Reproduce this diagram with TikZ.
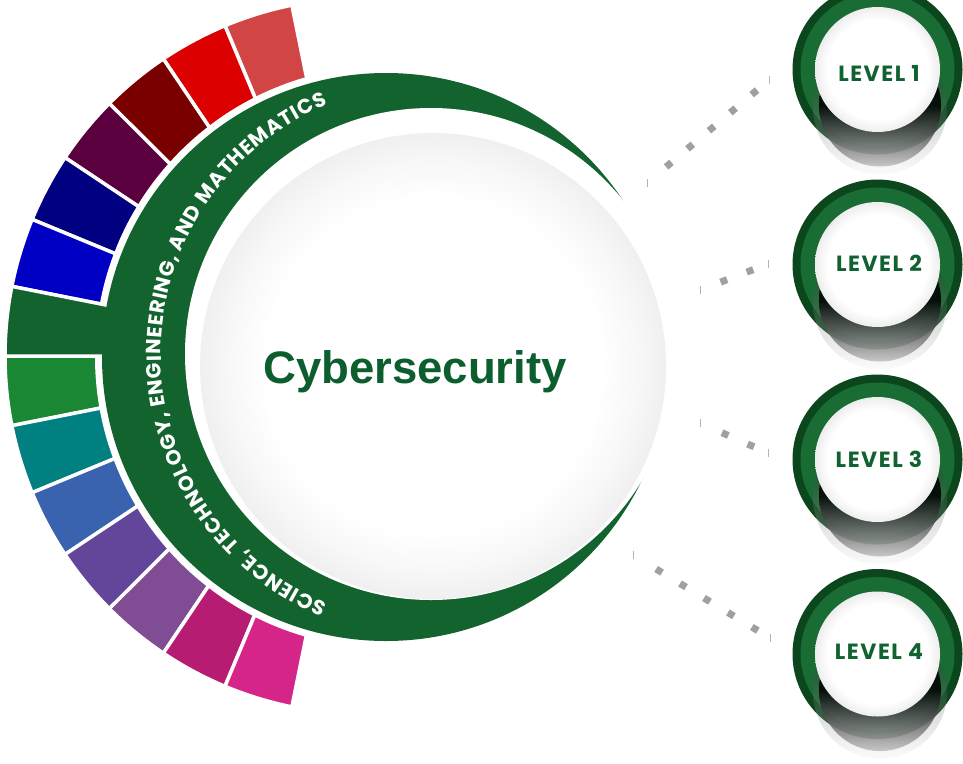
\documentclass[tikz,border=0pt]{standalone}
\usepackage{fontspec}
\usepackage{tikz}
\usetikzlibrary{decorations.text}
\newfontfamily\stemfont{Poppins}
\newfontfamily\lvfont{Poppins}[LetterSpace=7]
\newfontfamily\headfont{Liberation Sans}
\definecolor{stemgreen}{RGB}{19,99,47}
\definecolor{headgreen}{RGB}{12,94,46}
\definecolor{lvgreen}{RGB}{16,98,48}
\definecolor{rimdark}{RGB}{11,70,29}
\definecolor{rimlight}{RGB}{24,108,52}
\definecolor{dotgray}{RGB}{160,160,164}
\definecolor{blkA}{RGB}{209,69,69}
\definecolor{blkB}{RGB}{220,0,0}
\definecolor{blkC}{RGB}{122,0,0}
\definecolor{blkD}{RGB}{90,0,62}
\definecolor{blkE}{RGB}{0,0,128}
\definecolor{blkF}{RGB}{0,0,196}
\definecolor{blkH}{RGB}{26,135,53}
\definecolor{blkI}{RGB}{0,128,128}
\definecolor{blkJ}{RGB}{58,99,175}
\definecolor{blkK}{RGB}{99,70,153}
\definecolor{blkL}{RGB}{128,77,148}
\definecolor{blkM}{RGB}{181,28,114}
\definecolor{blkN}{RGB}{214,37,137}
\pgfdeclareradialshading{discshade}{\pgfpoint{0bp}{0bp}}{color(0bp)=(white); color(18bp)=(white); color(22bp)=(black!3); color(25bp)=(black!6); color(50bp)=(black!6)}
\pgfdeclareradialshading{knobshade}{\pgfpoint{0bp}{0bp}}{color(0bp)=(white); color(20bp)=(white); color(23bp)=(black!4); color(25bp)=(black!7); color(50bp)=(black!7)}
\tikzset{font={\fontsize{12pt}{14}\selectfont}}
\tikzset{blk/.style={draw=white,line width=3.5pt},
  headline/.style={font=\headfont\bfseries\fontsize{45.5}{50}\selectfont,text=headgreen,anchor=base,inner sep=0pt},
  lvtext/.style={font=\lvfont\bfseries\fontsize{22}{24}\selectfont,text=lvgreen,inner sep=0pt},
  sqline/.style={draw=dotgray,line width=7pt,dash pattern=on 7pt off 21pt},
  endtick/.style={draw=dotgray!80,line width=0.8pt},
  knobhalo/.style={top color=black,bottom color=black!5,middle color=black!60,opacity=0.3},
  knobshadow/.style={top color=black,bottom color=black!25,middle color=black,opacity=0.85}}

\begin{document}
\begin{tikzpicture}[x=1pt,y=-1pt]
\useasboundingbox (0,0) rectangle (963,763);

%centres
\coordinate (o2) at (363,356);
\coordinate (c1) at (386,357);
\coordinate (c2) at (431,354);
\coordinate (c3) at (433,366);

%colour blocks
\filldraw[blk,fill=blkA] (o2) -- ++(258.54:358) arc[start angle=258.54,end angle=247.32,radius=358] -- cycle;
\filldraw[blk,fill=blkB] (o2) -- ++(247.32:358) arc[start angle=247.32,end angle=236.10,radius=358] -- cycle;
\filldraw[blk,fill=blkC] (o2) -- ++(236.10:358) arc[start angle=236.10,end angle=224.88,radius=358] -- cycle;
\filldraw[blk,fill=blkD] (o2) -- ++(224.88:358) arc[start angle=224.88,end angle=213.66,radius=358] -- cycle;
\filldraw[blk,fill=blkE] (o2) -- ++(213.66:358) arc[start angle=213.66,end angle=202.44,radius=358] -- cycle;
\filldraw[blk,fill=blkF] (o2) -- ++(202.44:358) arc[start angle=202.44,end angle=191.22,radius=358] -- cycle;
\filldraw[blk,fill=blkH] (o2) -- ++(180.00:358) arc[start angle=180.00,end angle=168.78,radius=358] -- cycle;
\filldraw[blk,fill=blkI] (o2) -- ++(168.78:358) arc[start angle=168.78,end angle=157.56,radius=358] -- cycle;
\filldraw[blk,fill=blkJ] (o2) -- ++(157.56:358) arc[start angle=157.56,end angle=146.34,radius=358] -- cycle;
\filldraw[blk,fill=blkK] (o2) -- ++(146.34:358) arc[start angle=146.34,end angle=135.12,radius=358] -- cycle;
\filldraw[blk,fill=blkL] (o2) -- ++(135.12:358) arc[start angle=135.12,end angle=123.90,radius=358] -- cycle;
\filldraw[blk,fill=blkM] (o2) -- ++(123.90:358) arc[start angle=123.90,end angle=112.68,radius=358] -- cycle;
\filldraw[blk,fill=blkN] (o2) -- ++(112.68:358) arc[start angle=112.68,end angle=101.46,radius=358] -- cycle;

%gap, tab and ring
\fill[white] (c1) circle[radius=291];
\filldraw[blk,fill=stemgreen] (o2) -- ++(191.22:358) arc[start angle=191.22,end angle=180,radius=358] -- cycle;
\fill[stemgreen] (c1) circle[radius=284];
\fill[white] (c2) circle[radius=246];

%ring text
\path[decorate,decoration={text along path,text align=fit to path,
  text={|\stemfont\bfseries\fontsize{20.5}{20}\selectfont\color{white}|SCIENCE{,} TECHNOLOGY{,} ENGINEERING{,} AND MATHEMATICS}}]
  ([shift={(112.5:270)}]c2) arc[start angle=112.5,end angle=247.5,radius=270];

%disc
\shade[shading=discshade] (c3) circle[radius=233];
\node[headline] at (415,383) (cyber) {Cybersecurity};

%connectors
\coordinate (d1s) at (647,183);
\coordinate (d1e) at (769,80);
\coordinate (d2s) at (700,290);
\coordinate (d2e) at (768,264);
\coordinate (d3s) at (700,423);
\coordinate (d3e) at (768,453);
\coordinate (d4s) at (633,555);
\coordinate (d4e) at (770,638);
\draw[sqline,shorten <=25pt] (d1s) -- (d1e);
\draw[sqline,shorten <=22pt] (d2s) -- (d2e);
\draw[sqline,shorten <=24pt] (d3s) -- (d3e);
\draw[sqline,shorten <=27pt] (d4s) -- (d4e);
\draw[endtick] ([yshift=-4pt]d1s) -- ([yshift=4pt]d1s);
\draw[endtick] ([yshift=-4pt]d1e) -- ([yshift=4pt]d1e);
\draw[endtick] ([yshift=-4pt]d2s) -- ([yshift=4pt]d2s);
\draw[endtick] ([yshift=-4pt]d2e) -- ([yshift=4pt]d2e);
\draw[endtick] ([yshift=-4pt]d3s) -- ([yshift=4pt]d3s);
\draw[endtick] ([yshift=-4pt]d3e) -- ([yshift=4pt]d3e);
\draw[endtick] ([yshift=-4pt]d4s) -- ([yshift=4pt]d4s);
\draw[endtick] ([yshift=-4pt]d4e) -- ([yshift=4pt]d4e);

%level 1
\fill[rimdark] (877.5,69.5) circle[radius=85];
\fill[rimlight] (877.5,69.5) circle[radius=77];
\shade[knobhalo] (880,107.5) circle[radius=67];
\shade[knobshadow] (880,105.5) circle[radius=61];
\shade[shading=knobshade] (877.5,69.5) circle[radius=62.5];
\node[lvtext] at (879,73) (lv1) {LEVEL 1};

%level 2
\fill[rimdark] (877.5,264.5) circle[radius=85];
\fill[rimlight] (877.5,264.5) circle[radius=77];
\shade[knobhalo] (880,302.5) circle[radius=67];
\shade[knobshadow] (880,300.5) circle[radius=61];
\shade[shading=knobshade] (877.5,264.5) circle[radius=62.5];
\node[lvtext] at (879,263) (lv2) {LEVEL 2};

%level 3
\fill[rimdark] (877.5,459.5) circle[radius=85];
\fill[rimlight] (877.5,459.5) circle[radius=77];
\shade[knobhalo] (880,497.5) circle[radius=67];
\shade[knobshadow] (880,495.5) circle[radius=61];
\shade[shading=knobshade] (877.5,459.5) circle[radius=62.5];
\node[lvtext] at (879,459.5) (lv3) {LEVEL 3};

%level 4
\fill[rimdark] (877.5,654) circle[radius=85];
\fill[rimlight] (877.5,654) circle[radius=77];
\shade[knobhalo] (880,692) circle[radius=67];
\shade[knobshadow] (880,690) circle[radius=61];
\shade[shading=knobshade] (877.5,654) circle[radius=62.5];
\node[lvtext] at (879,651.5) (lv4) {LEVEL 4};

\end{tikzpicture}
\end{document}
